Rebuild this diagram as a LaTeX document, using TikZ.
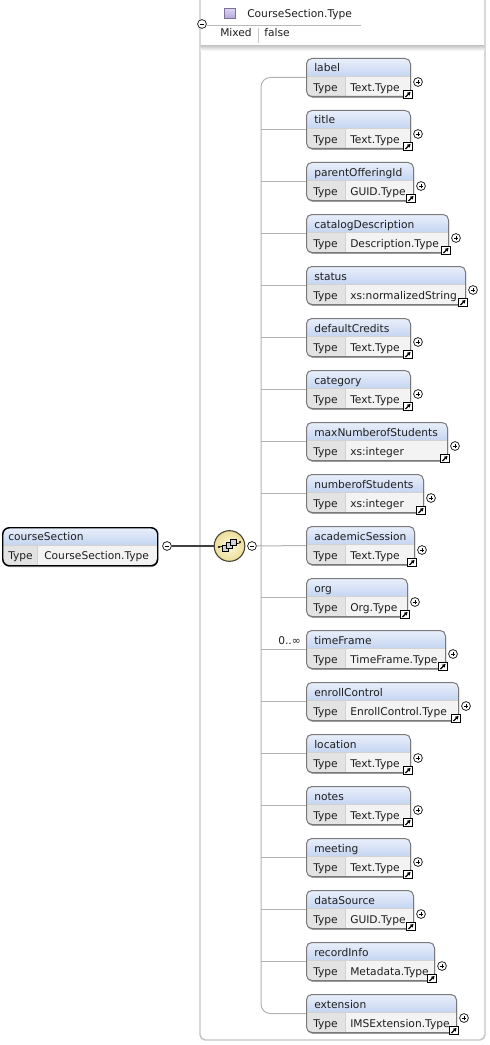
\documentclass[tikz,border=0pt]{standalone}
\usepackage{fontspec}
\newfontfamily\diafont{DejaVu Sans}
\usetikzlibrary{arrows.meta,calc}
\definecolor{hdtop}{HTML}{EAF0FB}
\definecolor{hdbot}{HTML}{C5D5F1}
\definecolor{typecell}{HTML}{E3E3E3}
\definecolor{valcell}{HTML}{F3F3F3}
\definecolor{boxborder}{HTML}{7A7A7A}
\definecolor{boxshadow}{HTML}{A0A0A0}
\definecolor{treegray}{HTML}{B2B2B2}
\definecolor{contgray}{HTML}{C4C4C4}
\definecolor{txt}{HTML}{1E1E1E}
\definecolor{seqin}{HTML}{FDF9DC}
\definecolor{seqout}{HTML}{EBDD98}
\definecolor{purpin}{HTML}{DDD5F3}
\definecolor{purpout}{HTML}{B3A5DB}
\begin{document}
\begin{tikzpicture}[x=0.75pt,y=-0.75pt,
  lbl/.style={inner sep=0pt, text=txt, font=\diafont\fontsize{8}{9.6}\selectfont},
  elembox/.style={draw=boxborder, line width=0.75pt, rounded corners=4pt, inner sep=0pt},
  rootbox/.style={draw=black, line width=1.1pt, rounded corners=5pt, inner sep=0pt},
  cellline/.style={draw=gray!35, line width=0.5pt},
  expander/.style={circle, draw=black, fill=white, line width=0.5pt, minimum size=6.6pt, inner sep=0pt},
  minusmark/.style={path picture={\draw[line width=0.5pt] ([xshift=-1.7pt]path picture bounding box.center) -- ([xshift=1.7pt]path picture bounding box.center);}},
  plusmark/.style={path picture={\draw[line width=0.5pt] ([xshift=-1.7pt]path picture bounding box.center) -- ([xshift=1.7pt]path picture bounding box.center) ([yshift=-1.7pt]path picture bounding box.center) -- ([yshift=1.7pt]path picture bounding box.center);}},
  refico/.style={draw=black, fill=white, line width=0.8pt, minimum size=6.4pt, inner sep=0pt,
    path picture={\draw[line width=0.9pt,-{Triangle[length=2.4pt,width=2.8pt]}] ([shift={(-1.9pt,-1.9pt)}]path picture bounding box.center) -- ([shift={(1.9pt,1.9pt)}]path picture bounding box.center);}},
  treeline/.style={draw=treegray, line width=0.75pt},
  rootline/.style={draw=black!75, line width=1.1pt},
  contline/.style={draw=contgray, line width=1.1pt},
  seqnode/.style={circle, draw=black!70!olive, line width=0.8pt, inner color=seqin, outer color=seqout, minimum size=23pt, inner sep=0pt},
  typeicon/.style={rectangle, draw=purpout!70!black, line width=0.5pt, top color=purpin, bottom color=purpout, minimum size=8pt, inner sep=0pt}
]
\useasboundingbox (0,0) rectangle (489,1045);
\fill[white] (0,0) rectangle (489,1045);

% container
\draw[contline, rounded corners=4pt] (200,0) -- (200,1040) -- (485,1040) -- (485,0);
\shade[top color=gray!40, bottom color=white] (200.6,46) rectangle (484.4,51);

% complex type header
\node[expander, minusmark] (typeminus) at (202,24) {};
\node[typeicon] (ticon) at (229.5,13.5) {};
\node[lbl, anchor=base west] (tname) at (247,18) {CourseSection.Type};
\coordinate (hdrend) at (361,25);
\draw[draw=gray!55, line width=0.6pt] (typeminus.east |- hdrend) -- (hdrend);
\node[lbl, anchor=base west] (mixk) at (220,37) {Mixed};
\node[lbl, anchor=base west] (mixv) at (264,37) {false};
\draw[draw=gray!45, line width=0.5pt] (258,28) -- (258,43);

% child elements
\foreach \id/\k/\r/\nm/\tp in {
  label/0/410/label/Text.Type,
  title/1/410/title/Text.Type,
  parentOfferingId/2/413/parentOfferingId/GUID.Type,
  catalogDescription/3/448/catalogDescription/Description.Type,
  status/4/465/status/xs:normalizedString,
  defaultCredits/5/410/defaultCredits/Text.Type,
  category/6/410/category/Text.Type,
  maxNumberofStudents/7/447/maxNumberofStudents/xs:integer,
  numberofStudents/8/423/numberofStudents/xs:integer,
  academicSession/9/414/academicSession/Text.Type,
  org/10/407/org/Org.Type,
  timeFrame/11/445/timeFrame/TimeFrame.Type,
  enrollControl/12/458/enrollControl/EnrollControl.Type,
  location/13/410/location/Text.Type,
  notes/14/410/notes/Text.Type,
  meeting/15/410/meeting/Text.Type,
  dataSource/16/413/dataSource/GUID.Type,
  recordInfo/17/434/recordInfo/Metadata.Type,
  extension/18/456/extension/IMSExtension.Type}
{
  \pgfmathsetmacro\eY{68+52*\k}
  \pgfmathsetmacro\eT{\eY-10}
  \pgfmathsetmacro\eB{\eY+28}
  \pgfmathsetmacro\eD{\eY+8.5}
  \pgfmathsetmacro\eW{(\r-306)*0.75}
  \fill[boxshadow, rounded corners=4pt] (307,\eT+2) rectangle (\r+1,\eB+1.8);
  \begin{scope}
    \clip[rounded corners=4pt] (306,\eT) rectangle (\r,\eB);
    \shade[top color=hdtop, bottom color=hdbot] (306,\eT) rectangle (\r,\eD);
    \fill[typecell] (306,\eD) rectangle (345,\eB);
    \fill[valcell] (345,\eD) rectangle (\r,\eB);
  \end{scope}
  \draw[cellline] (306,\eD) -- (\r,\eD) (345,\eD) -- (345,\eB);
  \node[elembox, minimum width=\eW pt, minimum height=28.5pt, anchor=north west] (e-\id) at (306,\eT) {};
  \node[lbl, anchor=base west] (e-\id-name) at (314,\eY+4) {\nm};
  \node[lbl, anchor=base west] (e-\id-tk) at (313,\eY+23.5) {Type};
  \node[lbl, anchor=base west] (e-\id-tv) at (350,\eY+23.5) {\tp};
  \node[expander, plusmark] (e-\id-plus) at (\r+8,\eY+14) {};
  \node[refico] (e-\id-ref) at (\r-2,\eY+26.5) {};
}

% root element
\fill[boxshadow, rounded corners=5pt] (3,529) rectangle (158,567);
\begin{scope}
  \clip[rounded corners=5pt] (2,527) rectangle (157,565);
  \shade[top color=hdtop, bottom color=hdbot] (2,527) rectangle (157,545);
  \fill[typecell] (2,545) rectangle (37,565);
  \fill[valcell] (37,545) rectangle (157,565);
\end{scope}
\draw[cellline] (2,545) -- (157,545) (37,545) -- (37,565);
\node[rootbox, minimum width=116.25pt, minimum height=28.5pt, anchor=north west] (root) at (2,527) {};
\node[lbl, anchor=base west] (root-name) at (8,540) {courseSection};
\node[lbl, anchor=base west] (root-tk) at (8,559.5) {Type};
\node[lbl, anchor=base west] (root-tv) at (44,559.5) {CourseSection.Type};
\node[expander, minusmark] (rootminus) at (167,546) {};

% sequence compositor
\node[seqnode] (seq) at (229.5,546) {};
\draw[line width=0.5pt] (219,547) -- (240,543);
\fill (219,547) circle (0.8pt) (240,542) circle (0.9pt);
\draw[fill=gray!35, line width=0.45pt] (222,545) rectangle (228,551);
\draw[fill=gray!35, line width=0.45pt] (226,542) rectangle (232,548);
\draw[fill=gray!35, line width=0.45pt] (230,539) rectangle (236,545);
\node[expander, minusmark] (seqminus) at (252,546) {};

\draw[rootline] (rootminus.east) -- (seq.west);

% tree connectors
\coordinate (trunk) at (261,0);
\draw[treeline, rounded corners=7pt] (e-label.west) -- (e-label.west -| trunk) -- (e-extension.west -| trunk) -- (e-extension.west);
\foreach \id in {title,parentOfferingId,catalogDescription,status,defaultCredits,category,maxNumberofStudents,numberofStudents,org,timeFrame,enrollControl,location,notes,meeting,dataSource,recordInfo}
  \draw[treeline] (e-\id.west -| trunk) -- (e-\id.west);
\draw[treeline] (seqminus.east) -- (e-academicSession.west);

\node[lbl, anchor=base east] (mult) at (301,644.5) {0..∞};
\end{tikzpicture}
\end{document}
